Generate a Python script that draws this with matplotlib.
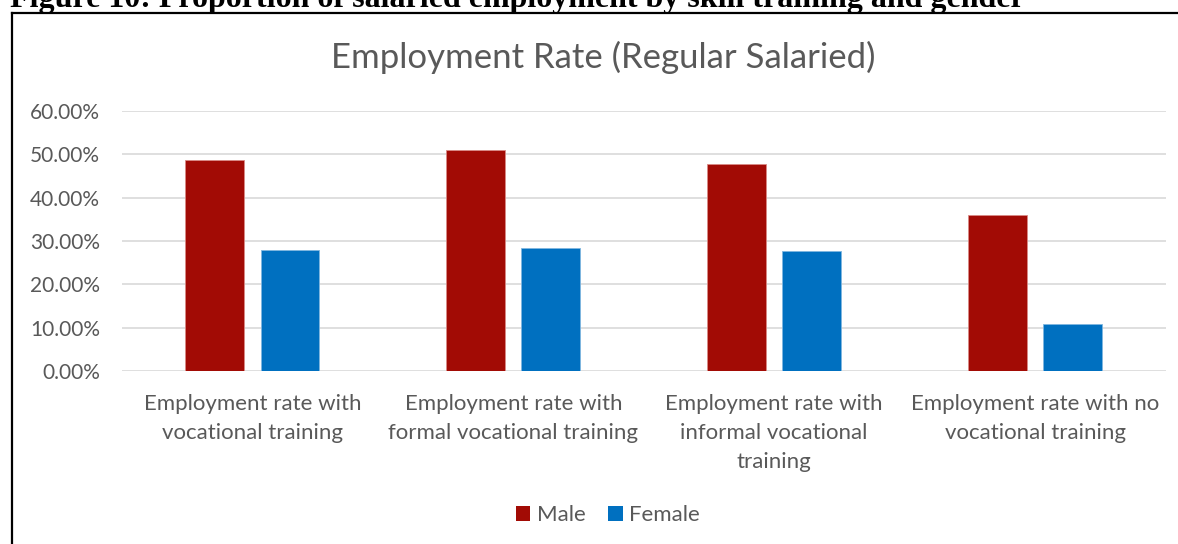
import matplotlib
matplotlib.use("Agg")
import matplotlib.pyplot as plt
from matplotlib.lines import Line2D
from matplotlib.patches import Patch
import numpy as np

categories = ["Employment rate with\nvocational training",
              "Employment rate with\nformal vocational training",
              "Employment rate with\ninformal vocational\ntraining",
              "Employment rate with no\nvocational training"]
male = [48.8, 51.0, 47.8, 35.9]
female = [28.0, 28.5, 27.7, 10.8]
yticks = [0, 10, 20, 30, 40, 50, 60]
ytick_labels = ["0.00%", "10.00%", "20.00%", "30.00%", "40.00%", "50.00%", "60.00%"]

W, H = 1178, 544
fig = plt.figure(figsize=(W / 100, H / 100), dpi=100)
font = "Lato"
gray = "#595959"

ax = fig.add_axes([122 / W, 1 - 371 / H, (1165.5 - 122) / W, (371 - 111) / H])
x = np.arange(len(categories))
bw = 0.226
off = 0.144
ax.bar(x - off, male, bw, color="#A20B05", edgecolor="#D98A86", linewidth=0.6, zorder=3)
ax.bar(x + off, female, bw, color="#0070C0", edgecolor="#7FB6E0", linewidth=0.6, zorder=3)
ax.set_xlim(-0.5, len(categories) - 0.5)
ax.set_ylim(0, 60)
ax.set_yticks(yticks)
ax.set_yticklabels(ytick_labels, fontfamily=font, fontsize=15, color=gray)
ax.set_xticks(x)
ax.set_xticklabels(categories, fontfamily=font, fontsize=16, color=gray, linespacing=1.58)
ax.tick_params(axis="y", length=0, pad=16)
ax.tick_params(axis="x", length=0, pad=16.5)
for s in ax.spines.values():
    s.set_visible(False)
ax.grid(axis="y", color="#D9D9D9", linewidth=1.2, zorder=0)
ax.set_axisbelow(True)

# title
fig.text(603 / W, 1 - 57 / H, "Employment Rate (Regular Salaried)", ha="center", va="center",
         fontfamily=font, fontsize=25, color=gray)

# legend
handles = [Patch(facecolor="#A20B05", label="Male"), Patch(facecolor="#0070C0", label="Female")]
fig.legend(handles=handles, loc="center", bbox_to_anchor=(608 / W, 1 - 515 / H), ncol=2,
           frameon=False, prop={"family": font, "size": 16}, labelcolor=gray,
           handlelength=0.65, handleheight=0.65, handletextpad=0.3, columnspacing=1.0)

# heading (cut off at top)
fig.text(10 / W, 1 - 7.5 / H, "Figure 10: Proportion of salaried employment by skill training and gender",
         ha="left", va="baseline", fontfamily="Liberation Serif", fontweight="bold",
         fontsize=23.0, color="black")

# chart border (left & top)
fig.add_artist(Line2D([11.5 / W, 11.5 / W], [0, 1 - 12.5 / H], transform=fig.transFigure,
                      color="black", linewidth=1.6))
fig.add_artist(Line2D([11.5 / W, 1.0], [1 - 12.5 / H, 1 - 12.5 / H], transform=fig.transFigure,
                      color="black", linewidth=1.6))

fig.savefig("out.png", dpi=100)
